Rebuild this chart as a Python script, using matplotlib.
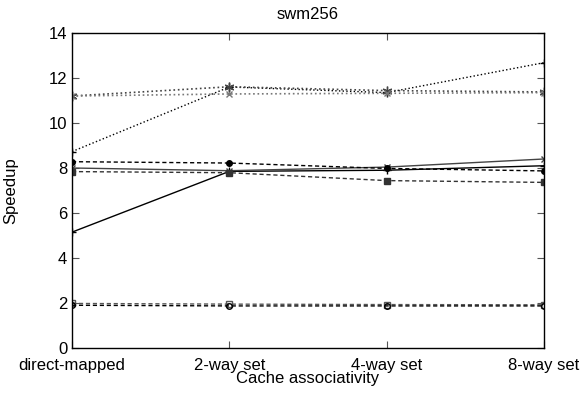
import matplotlib
matplotlib.use("Agg")
import matplotlib.pyplot as plt

plt.rcParams["font.family"] = ["Liberation Sans", "DejaVu Sans"]

categories = ["direct-mapped", "2-way set", "4-way set", "8-way set"]

solid_plus = [5.15, 7.85, 7.90, 8.10]
solid_x = [8.00, 7.88, 8.04, 8.40]
dash_circle = [8.28, 8.22, 7.98, 7.87]
dash_square = [7.84, 7.79, 7.44, 7.36]
dot_plus = [8.73, 11.60, 11.35, 12.68]
dot_star = [11.20, 11.61, 11.44, 11.38]
dot_x = [11.20, 11.29, 11.32, 11.35]
low_square = [1.98, 1.95, 1.93, 1.92]
low_circle = [1.90, 1.87, 1.87, 1.87]

x = list(range(len(categories)))

fig = plt.figure(figsize=(5.86, 3.96), dpi=100)
ax = fig.add_axes([0.1229, 0.1212, 0.8054, 0.7955])

ax.plot(x, solid_plus, "-", color="black", lw=1.0, marker="+", ms=6, mew=1.0)
ax.plot(x, solid_x, "-", color="#444444", lw=1.0, marker="x", ms=5, mew=1.0)
ax.plot(x, dash_circle, "--", color="black", lw=1.0, dashes=(3, 2), marker="o", ms=4)
ax.plot(x, dash_square, "--", color="#333333", lw=1.0, dashes=(3, 2), marker="s", ms=5)
ax.plot(x, dot_plus, ":", color="black", lw=1.0, marker="+", ms=6, mew=1.0)
ax.plot(x, dot_star, ":", color="#444444", lw=1.2, marker=(6, 2, 0), ms=7, mew=1.0)
ax.plot(x, dot_x, ":", color="#777777", lw=1.2, marker="x", ms=5, mew=1.0)
ax.plot(x, low_square, "--", color="#555555", lw=1.0, dashes=(3, 2), marker="s",
        ms=5, mfc="none", mew=1.0)
ax.plot(x, low_circle, "--", color="black", lw=1.0, dashes=(3, 2), marker="o",
        ms=4, mfc="none", mew=1.0)

ax.set_xlim(0, 3)
ax.set_ylim(0, 14)
ax.set_xticks(x)
ax.set_xticklabels(categories)
ax.set_yticks(range(0, 15, 2))
ax.tick_params(direction="in", top=True, right=True, length=5, labelsize=12,
               width=0.8, color="#555555")
ax.tick_params(axis="x", pad=7)
for s in ax.spines.values():
    s.set_linewidth(1.0)

ax.set_title("swm256", fontsize=12, pad=10)
ax.set_xlabel("Cache associativity", fontsize=12, labelpad=-1)
ax.set_ylabel("Speedup", fontsize=12, labelpad=22)

fig.savefig("out.png", dpi=100)
